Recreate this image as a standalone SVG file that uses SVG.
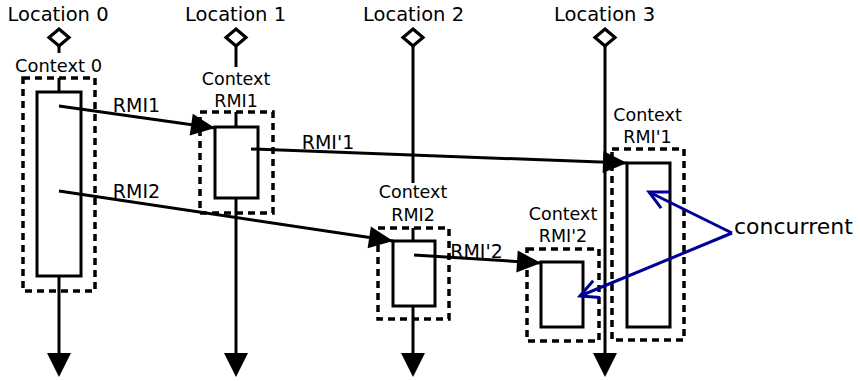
<svg xmlns="http://www.w3.org/2000/svg" width="860" height="381" viewBox="0 0 860 381">
  <style>
    text { font-family: "DejaVu Sans", "Liberation Sans", sans-serif; fill: #000; text-anchor: middle; }
    .loc { font-size: 19.5px; }
    .ctx { font-size: 17.5px; }
    .msg { font-size: 19px; }
    .note { font-size: 22px; text-anchor: start; }
    .life { stroke: #000; stroke-width: 3; fill: none; }
    .diamond { stroke: #000; stroke-width: 3.2; fill: #fff; }
    .frame { stroke: #000; stroke-width: 3.5; fill: none; stroke-dasharray: 7 5; }
    .act { stroke: #000; stroke-width: 3; fill: #fff; }
    .call { stroke: #000; stroke-width: 3; fill: none; marker-end: url(#solid); }
    .conc { stroke: #000099; stroke-width: 3; fill: none; marker-end: url(#open); }
  </style>
  <defs>
    <marker id="solid" markerUnits="userSpaceOnUse" markerWidth="26" markerHeight="24" refX="24" refY="11" orient="auto" overflow="visible">
      <path d="M0,0 L24,11 L0,22 Z" fill="#000"/>
    </marker>
    <marker id="open" markerUnits="userSpaceOnUse" markerWidth="24" markerHeight="24" refX="20" refY="10" orient="auto" overflow="visible">
      <path d="M2,1 L20,10 L2,19" fill="none" stroke="#000099" stroke-width="3"/>
    </marker>
    <marker id="down" markerUnits="userSpaceOnUse" markerWidth="24" markerHeight="26" refX="12" refY="0" orient="0" overflow="visible">
      <path d="M0,0 L24,0 L12,24 Z" fill="#000"/>
    </marker>
  </defs>

  <!-- Location 0 -->
  <g id="location0">
    <text class="loc" x="58" y="21">Location 0</text>
    <path class="life" d="M59,46 V53"/>
    <polygon class="diamond" points="59,29 69,37.5 59,46 49,37.5"/>
    <text class="ctx" x="58.5" y="72" textLength="87" lengthAdjust="spacingAndGlyphs">Context 0</text>
    <rect class="frame" x="23" y="78" width="72" height="213"/>
    <path class="life" d="M59,78 V92"/>
    <rect class="act" x="37" y="92" width="44" height="184"/>
    <path class="life" d="M59,276 V353" marker-end="url(#down)"/>
  </g>

  <!-- Location 1 -->
  <g id="location1">
    <text class="loc" x="235.5" y="21">Location 1</text>
    <path class="life" d="M236,46 V67"/>
    <polygon class="diamond" points="236,29 246,37.5 236,46 226,37.5"/>
    <text class="ctx" x="236" y="85">Context</text>
    <text class="ctx" x="236" y="107">RMI1</text>
    <rect class="frame" x="200" y="112" width="73" height="101"/>
    <path class="life" d="M236,112 V127"/>
    <rect class="act" x="215" y="127" width="43" height="71"/>
    <path class="life" d="M236,198 V353" marker-end="url(#down)"/>
  </g>

  <!-- Location 2 -->
  <g id="location2">
    <text class="loc" x="413.5" y="21">Location 2</text>
    <path class="life" d="M413,46 V183"/>
    <polygon class="diamond" points="413,29 423,37.5 413,46 403,37.5"/>
    <text class="ctx" x="413" y="198">Context</text>
    <text class="ctx" x="413" y="221">RMI2</text>
    <rect class="frame" x="378" y="228" width="71" height="91"/>
    <path class="life" d="M413,228 V241"/>
    <rect class="act" x="393" y="241" width="42" height="65"/>
    <path class="life" d="M413,306 V353" marker-end="url(#down)"/>
  </g>

  <!-- Location 3 -->
  <g id="location3">
    <text class="loc" x="604.5" y="21">Location 3</text>
    <path class="life" d="M605,46 V353" marker-end="url(#down)"/>
    <polygon class="diamond" points="605,29 615,37.5 605,46 595,37.5"/>
  </g>

  <!-- Context of RMI'1 -->
  <g id="contextRMI1p">
    <text class="ctx" x="647.5" y="121">Context</text>
    <text class="ctx" x="647.5" y="143">RMI'1</text>
    <rect class="frame" x="612" y="149" width="72" height="191"/>
    <rect class="act" x="627" y="163" width="43" height="164"/>
  </g>

  <!-- Context of RMI'2 -->
  <g id="contextRMI2p">
    <text class="ctx" x="563" y="220">Context</text>
    <text class="ctx" x="563" y="242">RMI'2</text>
    <rect class="frame" x="527" y="249" width="72" height="92"/>
    <rect class="act" x="541" y="262" width="42" height="65"/>
  </g>

  <!-- Calls -->
  <g id="connectors">
    <path class="call" d="M59,106 L215,128"/>
    <path class="call" d="M59,191 L393,241"/>
    <path class="call" d="M251,149 L627,163"/>
    <path class="call" d="M414,255 L541,263"/>
    <path class="conc" d="M732,233 L649,192"/>
    <path class="conc" d="M732,233 L580,296"/>
  </g>

  <!-- Labels -->
  <g id="labels">
    <text class="msg" x="136.5" y="112">RMI1</text>
    <text class="msg" x="136.5" y="198">RMI2</text>
    <text class="msg" x="328" y="149">RMI'1</text>
    <text class="msg" x="476.5" y="258">RMI'2</text>
    <text class="note" x="734" y="234">concurrent</text>
  </g>
</svg>
